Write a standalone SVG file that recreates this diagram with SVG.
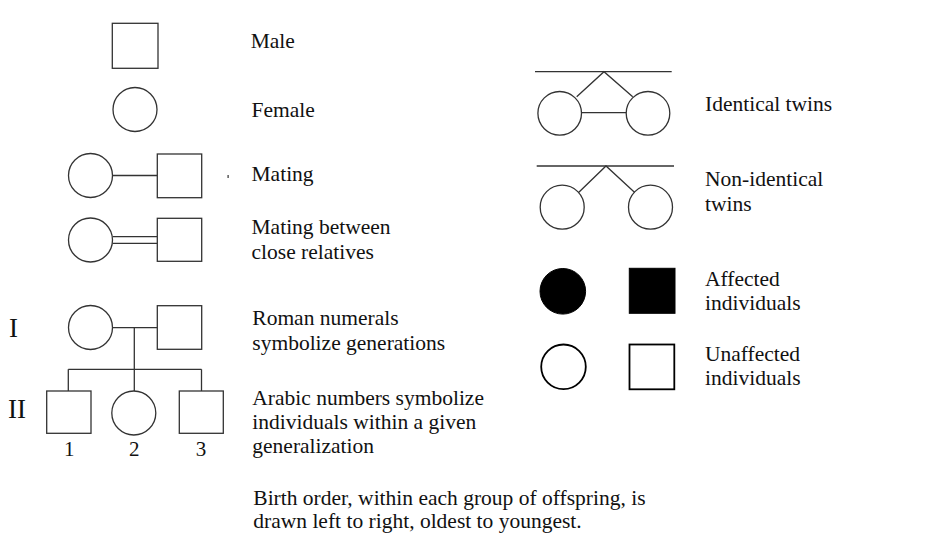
<svg xmlns="http://www.w3.org/2000/svg" width="946" height="559" viewBox="0 0 946 559">
<style>
.s{fill:#fff;stroke:#333;stroke-width:1.3}
.l{fill:none;stroke:#333;stroke-width:1.3}
.b{fill:#fff;stroke:#000;stroke-width:1.8}
.f{fill:#000;stroke:#000;stroke-width:1}
text{font-size:21.5px;fill:#111}
.big{font-size:27px}
.num{text-anchor:middle;font-size:21px}
</style>
<rect width="946" height="559" fill="#fff"/>
<g id="connectors">
<line class="l" x1="113" y1="175.5" x2="157" y2="175.5"/>
<line class="l" x1="112.5" y1="236.7" x2="157" y2="236.7"/>
<line class="l" x1="112.5" y1="243.3" x2="157" y2="243.3"/>
<line class="l" x1="112.5" y1="327.7" x2="157" y2="327.7"/>
<line class="l" x1="134.3" y1="327.7" x2="134.3" y2="391"/>
<line class="l" x1="68.3" y1="369.3" x2="201.5" y2="369.3"/>
<line class="l" x1="68.3" y1="369.3" x2="68.3" y2="391"/>
<line class="l" x1="201.5" y1="369.3" x2="201.5" y2="391"/>
<line class="l" x1="535" y1="71.7" x2="671.7" y2="71.7"/>
<polyline class="l" points="576.7,96.7 604,71.7 632.7,96.7"/>
<line class="l" x1="581.5" y1="112.7" x2="626.2" y2="112.7"/>
<line class="l" x1="536.7" y1="166" x2="674" y2="166"/>
<polyline class="l" points="578.3,192.7 606,166 635,192.7"/>
</g>
<g id="labels" font-family="'Liberation Serif', 'DejaVu Serif', serif">
<g id="male"><rect class="s" x="112.3" y="23.3" width="45.7" height="45"/><text x="250.7" y="48">Male</text></g>
<g id="female"><circle class="s" cx="135" cy="109.5" r="22"/><text x="251.5" y="116.5">Female</text></g>
<g id="mating">
<circle class="s" cx="90.5" cy="175.5" r="22"/><rect class="s" x="157.3" y="154" width="44.4" height="43.7"/>
<rect x="227.5" y="175" width="1.2" height="3" fill="#333"/>
<text x="251.5" y="181">Mating</text>
</g>
<g id="mating-relatives">
<circle class="s" cx="90.5" cy="240" r="22"/><rect class="s" x="157.3" y="218.3" width="44.4" height="43"/>
<text x="251.5" y="233.5">Mating between</text><text x="251.5" y="258.5">close relatives</text>
</g>
<g id="gen-I">
<text class="big" x="9" y="336.7">I</text>
<circle class="s" cx="90.5" cy="327.5" r="22"/><rect class="s" x="157.3" y="305.7" width="44.4" height="43.6"/>
<text x="252.3" y="325">Roman numerals</text><text x="252.3" y="350">symbolize generations</text>
</g>
<g id="gen-II">
<text class="big" x="8" y="418">II</text>
<rect class="s" x="46.7" y="391" width="44.3" height="42.3"/>
<circle class="s" cx="133.8" cy="413" r="22"/>
<rect class="s" x="179.3" y="391" width="44" height="42.3"/>
<text class="num" x="69.3" y="456">1</text><text class="num" x="134.3" y="456">2</text><text class="num" x="201" y="456">3</text>
<text x="252.3" y="405">Arabic numbers symbolize</text><text x="252.3" y="428.5">individuals within a given</text><text x="252.3" y="453.3">generalization</text>
</g>
<g id="birth-order">
<text x="253.3" y="505">Birth order, within each group of offspring, is</text>
<text x="253.3" y="528.3">drawn left to right, oldest to youngest.</text>
</g>
<g id="identical-twins">
<circle class="s" cx="559.7" cy="113.3" r="21.8"/><circle class="s" cx="648" cy="113.3" r="21.8"/>
<text x="705" y="111">Identical twins</text>
</g>
<g id="non-identical-twins">
<circle class="s" cx="562.2" cy="207.2" r="22"/><circle class="s" cx="650.5" cy="207.2" r="22"/>
<text x="705" y="186">Non-identical</text><text x="705" y="210.7">twins</text>
</g>
<g id="affected">
<circle class="f" cx="562.8" cy="291.3" r="22.8"/><rect class="f" x="629.3" y="268.3" width="45.7" height="45"/>
<text x="705" y="286">Affected</text><text x="705" y="310">individuals</text>
</g>
<g id="unaffected">
<circle class="b" cx="563.5" cy="366.8" r="22.3"/><rect class="b" x="629.5" y="344.5" width="44.8" height="44.8"/>
<text x="705" y="360.7">Unaffected</text><text x="705" y="385">individuals</text>
</g>
</g>
</svg>
